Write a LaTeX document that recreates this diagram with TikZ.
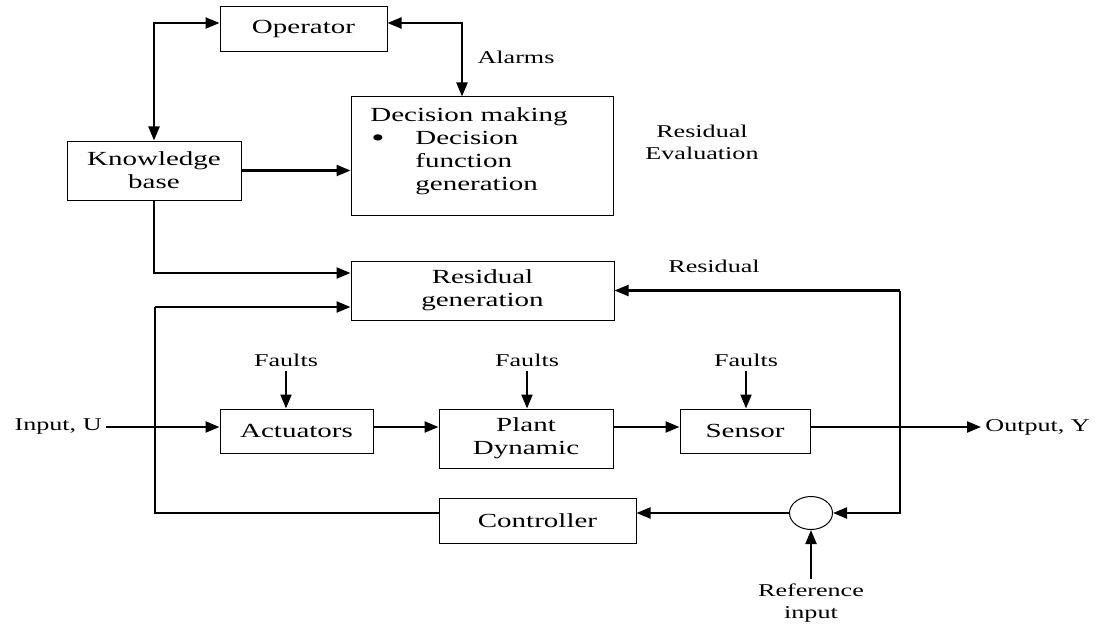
\documentclass[tikz,border=0pt]{standalone}
\usepackage{fontspec}
\setmainfont{Liberation Serif}[FakeStretch=1.45]
\usetikzlibrary{calc,arrows.meta,shapes.geometric}
\tikzstyle{block} = [draw,line width=0.5pt,inner sep=0,align=center]
\tikzstyle{tag}   = [inner sep=2pt,align=center,font=\fontsize{9}{11}\selectfont]
\tikzstyle{signal} = [line width=1.1pt,-{Triangle[length=7pt,width=5.5pt]}]
\tikzstyle{both}   = [line width=1.1pt,{Triangle[length=7pt,width=5.5pt]}-{Triangle[length=7pt,width=5.5pt]}]

\begin{document}
\begin{tikzpicture}[x=0.5pt,y=-0.5pt,font=\fontsize{10}{11.5}\selectfont]

    \useasboundingbox (0,0) rectangle (1097,626);

    % upper part
    \node(op)[block, minimum width=83.5pt, minimum height=22.5pt] at (303.5,29.5) {Operator};
    \node(kb)[block, minimum width=87pt, minimum height=29.5pt] at (154,170.5) {Knowledge\\base};
    \node(dm)[block, minimum width=131pt, minimum height=59pt] at (482,156) {};
    \node(dmtext)[anchor=north west, inner sep=0] at (370,105) {%
        \begin{tabular}{@{}l@{}l@{}}
            \multicolumn{2}{@{}l@{}}{Decision making}\\
            \makebox[22.5pt][l]{\hspace{0.5pt}\raisebox{-1pt}{\fontsize{13}{11.5}\selectfont\textbullet}} & Decision\\
            & function\\
            & generation
        \end{tabular}};
    \node(rg)[block, minimum width=131.5pt, minimum height=29.5pt] at (482.5,290.5) {Residual\\generation};

    \node(alarms)[tag] at (516,57) {Alarms};
    \node(reval)[tag] at (702,142) {Residual\\Evaluation};
    \node(res)[tag] at (714,266) {Residual};

    % plant loop
    \node(act)[block, minimum width=76.5pt, minimum height=22pt] at (296.5,431) {Actuators};
    \node(pd)[block, minimum width=87pt, minimum height=29.5pt] at (526,438.5) {Plant\\Dynamic};
    \node(sen)[block, minimum width=65pt, minimum height=22pt] at (745,431) {Sensor};
    \node(ctrl)[block, minimum width=98.5pt, minimum height=22.5pt] at (537.5,520.5) {Controller};
    \node(sum)[ellipse, draw, line width=0.5pt, minimum width=21.5pt, minimum height=16.5pt, inner sep=0] at (811,513) {};

    \node(f1)[tag] at (286,360) {Faults};
    \node(f2)[tag] at (527,360) {Faults};
    \node(f3)[tag] at (746,360) {Faults};
    \node(inp)[tag, anchor=east] at (106,427) {Input, U};
    \node(outp)[tag, anchor=west] at (981,427) {Output, Y};
    \node(ref)[tag] at (811,603) {Reference\\input};

    \coordinate(loop) at (155,307);
    \coordinate(fb) at (900,290.5);

    % operator links
    \draw[both] (kb.north) |- ($(op.west)+(0,-6.5)$);
    \draw[both] ($(op.east)+(0,-6.5)$) -| ($(dm.north)+(-20,0)$);
    \draw[signal] (kb.east) -- (kb.east -| dm.west);
    \draw[signal] (kb.south) |- ($(rg.west)+(0,-17.5)$);

    % faults
    \draw[signal] (f1.south) -- (f1.south |- act.north);
    \draw[signal] (f2.south) -- (f2.south |- pd.north);
    \draw[signal] (f3.south) -- (f3.south |- sen.north);

    % main signal path
    \draw[signal] (inp.east) -- (inp.east -| act.west);
    \draw[signal] (act.east |- inp.east) -- (pd.west |- inp.east);
    \draw[signal] (pd.east |- inp.east) -- (sen.west |- inp.east);
    \draw[signal] (sen.east |- inp.east) -- (outp.west);

    % feedback
    \draw[signal] (fb) -- (rg.east);
    \draw[signal] (fb) |- (sum.east);
    \draw[signal] (ref.north) -- (sum.south);
    \draw[signal] (sum.west) -- (sum.west -| ctrl.east);
    \draw[line width=0.6pt] (ctrl.west |- sum.west) -| (loop);
    \draw[signal] (loop) -- (loop -| rg.west);

\end{tikzpicture}
\end{document}
